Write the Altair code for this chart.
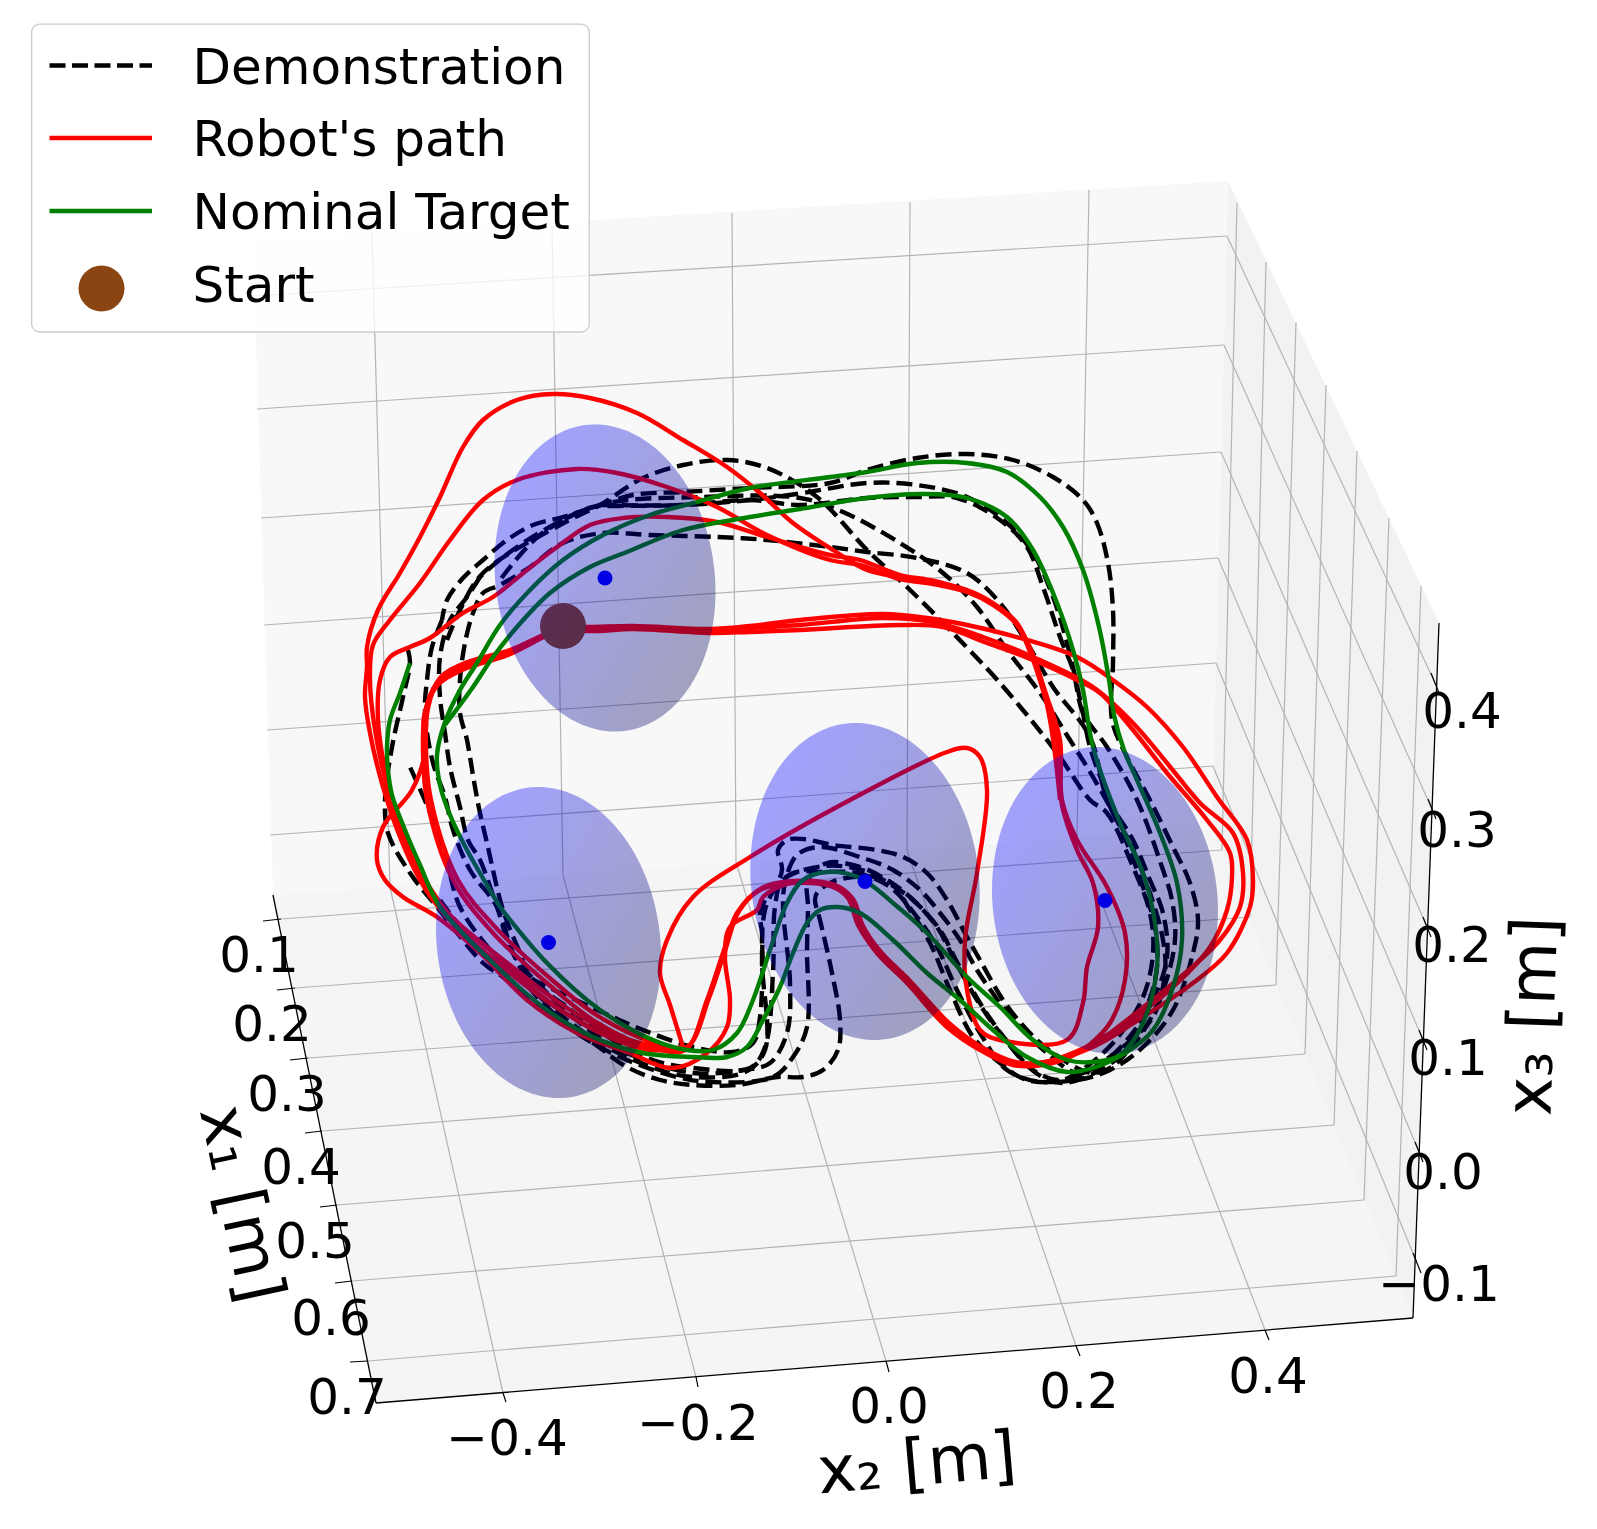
import numpy as np
import pandas as pd
import altair as alt

W, H = 1581, 1513
FONT = "DejaVu Sans"

# ---- box of the projected 3D axes (projected screen values)
back_wall = [(253,241),(1228,181),(1212,828),(273,895)]
right_wall = [(1228,181),(1439,623),(1413,1318),(1212,828)]
floor_pane = [(273,895),(1212,828),(1413,1318),(376,1403)]

x3_back_left = [(254,296),(257,409),(261,518),(264,625),(267,730),(270,835)]
x3_back_right = [(1227,236),(1224,345),(1221,452),(1218,558),(1216,663),(1213,766)]
x3_axis_pts = [(1435,683),(1432,809),(1427,927),(1423,1040),(1419,1152),(1417,1263)]
x3_labels = ["0.4","0.3","0.2","0.1","0.0","\u22120.1"]
x3_label_pos = [(1462,713),(1457,832),(1452,947),(1448,1060),(1443,1174),(1439,1286)]

x2_top = [(372,232),(552,225),(732,213),(910,202),(1089,190)]
x2_corner = [(390,887),(563,875),(736,862),(907,850),(1077,838)]
x2_axis_pts = [(503,1393),(696,1377),(886,1361),(1076,1346),(1265,1330)]
x2_tick_end = [(506,1402),(698,1387),(889,1372),(1080,1356),(1269,1340)]
x2_labels = ["\u22120.4","\u22120.2","0.0","0.2","0.4"]
x2_label_pos = [(507,1440),(698,1425),(889,1408),(1079,1393),(1268,1378)]

x1_axis_pts = [(281,919),(295,988),(308,1058),(322,1131),(337,1205),(352,1281),(368,1361)]
x1_tick_end = [(263,921),(277,990),(290,1060),(305,1133),(320,1207),(335,1283),(350,1362)]
x1_right = [(1222,850),(1250,917),(1276,985),(1305,1054),(1334,1125),(1364,1200),(1396,1276)]
x1_top = [(1237,203),(1266,262),(1296,322),(1326,385),(1357,451),(1389,518),(1421,586)]
x1_labels = ["0.1","0.2","0.3","0.4","0.5","0.6","0.7"]
x1_label_pos = [(259,957),(272,1026),(287,1096),(301,1169),(315,1243),(331,1320),(347,1399)]

axis_segments = [((273,895),(376,1403)),((376,1403),(1413,1318)),((1439,623),(1413,1318))]

# ---- spherical obstacles: centre, half width, half height, skew
obstacle_cx = [605, 548.5, 865, 1105]
obstacle_cy = [578, 942.5, 881.5, 900.5]
obstacle_ax = [110.5, 112.5, 114.7, 113]
obstacle_by = [153.5, 155.5, 158.5, 153.5]
obstacle_sk = [0.09, 0.09, 0.08, 0.07]

start_point = (563, 626)

# ---- demonstrations
demo_a = [(408,650),(410,663),(403,697),(392,747),(385,800),(388,833),(410,873),(437,907),(483,963),(503,977),(543,1010),(593,1043),(627,1067),(660,1080),(693,1085),(737,1085),(777,1077),(803,1077),(823,1070),(838,1050),(840,1020),(832,973),(820,920),(815,900),(817,893),(837,880),(887,880),(910,910),(930,943),(950,990),(973,1037),(1000,1063),(1027,1080),(1077,1080),(1110,1070),(1143,1047),(1173,1010),(1193,953),(1198,920),(1190,883),(1173,847),(1150,800),(1127,757),(1112,720),(1113,663),(1113,610),(1108,563),(1097,523),(1083,500),(1053,477),(1013,460),(967,454),(917,458),(867,470),(830,483),(750,488),(683,492),(633,495),(600,505),(563,517),(533,525),(507,540),(483,560),(463,578),(447,600),(442,620)]
demo_b = [(442,620),(432,647),(427,680),(425,713),(433,763),(445,797),(453,830),(470,870),(497,907),(513,953),(527,977),(567,1007),(613,1040),(653,1060),(693,1068),(750,1068),(765,1047),(773,973),(775,907),(783,880),(825,866),(862,870),(890,884),(913,900),(940,930),(956,960),(980,1003),(1003,1036),(1036,1073),(1062,1083),(1100,1070),(1137,1040),(1163,990),(1175,940),(1172,900),(1162,867),(1137,800),(1107,747),(1083,713),(1073,670),(1060,637),(1043,587),(1027,547),(1000,520),(957,498),(917,497),(867,498),(800,505),(750,500),(683,505),(617,506),(593,507),(557,523),(523,543),(497,562),(480,577)]
demo_c = [(480,577),(467,597),(450,620),(440,657),(440,697),(445,733),(450,767),(460,807),(468,840),(480,860),(497,907),(513,953),(547,993),(593,1033),(627,1053),(693,1073),(743,1070),(770,1063),(787,1033),(790,983),(783,907),(785,883),(797,855),(820,847),(860,857),(893,870),(920,890),(940,913),(960,940),(977,970),(1000,1003),(1023,1030),(1047,1053),(1077,1073),(1100,1065),(1127,1040),(1153,1000),(1167,957),(1163,913),(1150,880),(1133,840),(1113,807),(1090,747),(1083,713),(1067,643),(1053,597),(1033,553),(1007,523),(967,497),(917,485),(867,483),(803,493),(750,500),(683,505),(600,505)]
demo_d = [(1123,1047),(1153,1017),(1165,973),(1163,940),(1150,893),(1130,843),(1107,800),(1090,737),(1053,687),(1027,643),(1000,603),(967,573),(917,558),(867,552),(830,547),(767,540),(717,537),(650,535),(603,533),(563,543),(530,567),(500,585),(483,593),(473,613),(465,643),(460,680),(460,713),(467,740),(470,757),(475,787),(480,813),(487,843),(503,910),(520,953),(530,977),(540,983),(593,1008),(643,1030),(693,1047),(733,1052),(753,1043),(760,1017),(762,933),(760,913),(770,893),(793,873),(823,872),(857,873),(890,887),(917,917),(937,947),(957,990),(980,1033),(1007,1070),(1043,1082),(1080,1075),(1123,1047)]
demo_e = [(440,900),(480,950),(520,980),(567,1020),(607,1047),(660,1070),(693,1077),(745,1072),(765,1050),(762,960),(765,910),(782,870),(778,850),(787,840),(803,839),(833,845),(877,850),(903,857),(927,873),(947,900),(967,937),(980,960),(1003,1000),(1027,1030),(1053,1053),(1093,1073),(1120,1060),(1147,1007),(1157,967),(1155,927),(1143,887),(1120,827),(1093,777),(1070,740),(1040,693),(1007,650),(977,607),(943,573),(900,543),(843,512),(800,498),(700,497),(600,505),(540,535),(500,580)]
demo_f = [(447,640),(460,610),(483,573),(560,525),(600,505),(643,478),(683,465),(727,460),(767,468),(817,497),(867,550),(907,587),(950,630),(1000,683),(1057,753),(1090,800),(1107,813),(1133,867),(1150,913),(1153,953),(1143,997),(1113,1043),(1077,1073),(1060,1080),(1033,1070),(1000,1033),(977,1000),(953,957),(937,927),(910,897),(887,880),(860,867),(827,863),(808,880),(808,907),(807,950),(807,1027),(793,1057),(773,1077),(710,1082),(677,1077),(620,1057),(577,1033),(540,1000),(520,977),(493,953),(460,907),(448,867),(433,820),(410,767)]

# ---- robot paths
robot_a = [(563,626),(543,637),(510,653),(463,667),(437,683),(425,713),(423,750),(427,800),(453,880),(493,933),(547,983),(593,1020),(650,1047),(685,1050),(707,1000),(723,953),(737,913),(760,890),(793,883),(833,887),(850,900),(860,927),(877,953),(907,983),(947,1027),(980,1050),(1013,1065),(1043,1065),(1070,1057),(1093,1043),(1127,1023),(1173,987),(1210,947),(1227,910),(1232,877),(1230,853),(1207,820),(1167,773),(1133,730),(1100,693),(1077,680),(1033,660),(987,643),(943,627),(900,625),(800,630),(750,632),(710,633),(633,629),(587,631),(563,626)]
robot_b = [(563,626),(543,635),(510,650),(465,663),(440,678),(428,708),(426,750),(431,800),(458,880),(498,930),(552,980),(598,1016),(655,1043),(687,1047),(709,998),(725,951),(739,911),(762,888),(793,881),(835,885),(853,899),(863,926),(880,951),(910,981),(950,1024),(983,1048),(1015,1062),(1045,1062),(1075,1052),(1100,1040),(1127,1020),(1177,980),(1220,940),(1240,907),(1243,873),(1233,833),(1200,803),(1167,763),(1133,723),(1093,687),(1033,657),(983,637),(933,622),(883,618),(800,625),(750,628),(710,630),(633,627),(587,628),(563,626)]
robot_c = [(563,626),(541,638),(508,655),(462,670),(436,687),(424,717),(425,752),(412,790),(383,827),(377,860),(385,880),(403,897),(437,917),(480,953),(527,1000),(577,1033),(627,1052),(673,1068),(707,1053),(727,1027),(730,1000),(725,957),(730,927),(757,910),(763,897),(790,883),(830,885),(848,898),(858,925),(875,950),(905,980),(945,1025),(978,1048),(1011,1063),(1041,1063),(1093,1047),(1143,1017),(1193,983),(1227,953),(1250,907),(1253,880),(1247,840),(1217,797),(1183,747),(1147,707),(1117,683),(1077,657),(1020,638),(967,625),(927,618),(883,614),(800,620),(750,626),(710,629),(633,626),(587,627),(563,626)]
robot_d = [(1087,1047),(1110,1023),(1125,980),(1125,933),(1107,887),(1077,840),(1062,800),(1060,740),(1047,697),(1033,657),(1017,623),(993,603),(967,590),(933,582),(900,577),(867,570),(833,550),(793,523),(760,493),(727,467),(683,440),(637,413),(590,398),(553,394),(517,400),(483,420),(463,447),(440,497),(420,537),(400,573),(378,610),(367,647),(367,667),(365,697),(370,733),(383,787),(400,837),(420,880),(437,905),(493,953),(547,1000),(600,1033),(650,1050),(683,1047)]
robot_e = [(683,1047),(670,1005),(660,973),(667,940),(693,897),(750,857),(850,800),(947,752),(967,748),(980,757),(987,790),(977,873),(965,940),(967,990),(980,1030),(1000,1040),(1067,1040),(1083,1003),(1087,967),(1098,927),(1093,883),(1077,850),(1062,805),(1058,745),(1045,697),(1033,660),(1017,625),(993,605),(967,592),(933,584),(900,579),(860,565),(830,560),(767,535),(717,507),(667,487),(617,473),(577,469),(517,480),(483,500),(450,540),(420,583),(390,620),(373,645),(370,680),(375,730),(388,790),(405,840),(425,885),(445,915),(500,965),(560,1010),(620,1040),(680,1052)]
robot_f = [(1060,800),(1050,720),(1035,660),(1015,622),(990,602),(965,590),(930,580),(900,575),(860,560),(830,555),(767,537),(717,522),(667,517),(623,518),(590,525),(557,547),(527,570),(493,597),(463,613),(430,638),(410,647),(390,657),(380,680),(378,720),(385,770),(400,830),(425,880),(450,915),(510,965),(570,1010),(630,1040),(690,1050)]

# ---- nominal targets
target_a = [(410,663),(400,693),(390,720),(387,747),(388,770),(392,795),(405,830),(420,865),(440,907),(493,963),(547,1010),(593,1037),(643,1053),(693,1057),(727,1057),(747,1047),(763,1020),(780,987),(793,953),(807,923),(820,910),(837,907),(860,913),(893,940),(927,973),(960,1000),(993,1030),(1027,1057),(1067,1072),(1093,1068),(1127,1052),(1153,1030),(1173,987),(1182,940),(1177,883),(1160,833),(1137,780),(1124,750),(1114,715),(1109,680),(1099,627),(1083,570),(1063,527),(1040,497),(1007,472),(967,463),(917,463),(867,472),(830,477),(750,488),(697,502),(650,515),(603,535),(563,560),(530,590),(500,625),(477,663),(460,690),(445,722),(437,755),(440,785),(450,815),(467,850),(500,907)]
target_b = [(500,907),(547,963),(600,1010),(653,1040),(687,1050),(713,1050),(737,1033),(753,1000),(770,950),(787,903),(803,880),(827,872),(860,878),(893,903),(927,933),(967,977),(1000,1007),(1033,1040),(1067,1060),(1093,1062),(1120,1055),(1143,1023),(1157,967),(1155,923),(1143,873),(1120,823),(1093,747),(1083,690),(1073,650),(1057,603),(1033,550),(1007,517),(967,498),(923,494),(867,498),(800,509),(750,517),(683,530),(627,552),(590,567),(550,593),(517,627),(493,657),(473,687),(445,725)]

demos = [demo_a, demo_b, demo_c, demo_d, demo_e, demo_f]
robots = [robot_a, robot_b, robot_c, robot_d, robot_e, robot_f]
targets = [target_a, target_b]

# ---- legend
legend_box = ((31.6, 24.2), (589.3, 332))
legend_names = ["Demonstration", "Robot's path", "Nominal Target", "Start"]
legend_baselines = [83.5, 156, 229, 301.5]
legend_line_y = [65.5, 138, 211]
legend_dot = (101.5, 288.5)
legend_x = (49.5, 152, 192.5)

x_enc = alt.X("x:Q", scale=alt.Scale(domain=[8, 8 + W], range=[0, W]), axis=None)
y_enc = alt.Y("y:Q", scale=alt.Scale(domain=[8, 8 + H], range=[0, H]), axis=None)
x2_enc = alt.X2("x2:Q")
y2_enc = alt.Y2("y2:Q")
PROJ = dict(type="identity", scale=1, translate=[-8, -8])


def feature(pts, **props):
    ring = [list(map(float, p)) for p in pts]
    ring.append(ring[0])
    return {"type": "Feature", "properties": props,
            "geometry": {"type": "Polygon", "coordinates": [ring]}}


def segs(a, b):
    return pd.DataFrame({"x": [p[0] for p in a], "y": [p[1] for p in a],
                         "x2": [p[0] for p in b], "y2": [p[1] for p in b]})


def rules(df, color, width):
    return alt.Chart(df).mark_rule(color=color, strokeWidth=width).encode(
        x=x_enc, y=y_enc, x2=x2_enc, y2=y2_enc)


def paths(groups):
    rows = [{"id": k, "i": i, "x": p[0], "y": p[1]}
            for k, g in enumerate(groups) for i, p in enumerate(g)]
    return pd.DataFrame(rows)


def lines(groups, color, width, dash=None):
    kw = dict(color=color, strokeWidth=width, interpolate="catmull-rom", strokeCap="butt", strokeJoin="round")
    if dash:
        kw["strokeDash"] = dash
    return alt.Chart(paths(groups)).mark_line(**kw).encode(
        x=x_enc, y=y_enc, detail="id:N", order="i:Q")


def labels(names, pos, size=50):
    df = pd.DataFrame({"t": names, "x": [p[0] for p in pos], "y": [p[1] for p in pos]})
    return alt.Chart(df).mark_text(font=FONT, fontSize=size, color="black", align="center",
                                   baseline="middle").encode(x=x_enc, y=y_enc, text="t:N")


def title(text, pos, angle, size=65):
    df = pd.DataFrame({"t": [text], "x": [pos[0]], "y": [pos[1]]})
    return alt.Chart(df).mark_text(font=FONT, fontSize=size, color="black", align="center",
                                   baseline="middle", angle=angle).encode(x=x_enc, y=y_enc, text="t:N")


pane_feats = [feature(back_wall, fill="#f8f8f8"), feature(floor_pane, fill="#f5f5f5"),
              feature(right_wall, fill="#f2f2f2")]
panes = alt.Chart(alt.Data(values=pane_feats)).mark_geoshape(strokeWidth=0).encode(
    fill=alt.Color("properties.fill:N", scale=None)).project(**PROJ)

grid = [
    segs(x3_back_left, x3_back_right), segs(x3_back_right, x3_axis_pts),
    segs(x2_top, x2_corner), segs(x2_corner, x2_axis_pts),
    segs(x1_axis_pts, x1_right), segs(x1_right, x1_top),
]
grid_layers = [rules(g, "#b4b4b4", 1.2) for g in grid]

axis_df = segs([a for a, b in axis_segments], [b for a, b in axis_segments])
tick_dfs = [segs(x1_axis_pts, x1_tick_end), segs(x2_axis_pts, x2_tick_end),
            segs([(p[0] - 4, p[1] - 10) for p in x3_axis_pts], [(p[0] + 4, p[1] + 10) for p in x3_axis_pts])]

black = lines(demos, "black", 4.4, [16, 7])
red = lines(robots, "red", 4.4)
green = lines(targets, "green", 4.4)

start_df = pd.DataFrame({"x": [start_point[0]], "y": [start_point[1]]})
start = alt.Chart(start_df).mark_circle(color="#8b4513", opacity=1, size=2116).encode(x=x_enc, y=y_enc)
cent_df = pd.DataFrame({"x": obstacle_cx, "y": obstacle_cy})
centers = alt.Chart(cent_df).mark_circle(color="#0000ff", opacity=1, size=225).encode(x=x_enc, y=y_enc)

t = np.linspace(0, 2 * np.pi, 120, endpoint=False)
ell_feats = []
for cx, cy, ax, by, sk in zip(obstacle_cx, obstacle_cy, obstacle_ax, obstacle_by, obstacle_sk):
    d = np.arcsin(sk)
    pts = list(zip(cx + ax * np.cos(t), cy + by * np.sin(t + d)))
    ell_feats.append(feature(pts))
grad = alt.LinearGradient(gradient="linear", x1=0, y1=0.1, x2=1, y2=0.9,
                          stops=[alt.GradientStop(color="#0000ff", offset=0.15),
                                 alt.GradientStop(color="#000040", offset=1)])
ellipses = alt.Chart(alt.Data(values=ell_feats)).mark_geoshape(
    fill=grad, fillOpacity=0.35, strokeWidth=0).project(**PROJ)

box_df = pd.DataFrame({"x": [legend_box[0][0]], "y": [legend_box[0][1]],
                       "x2": [legend_box[1][0]], "y2": [legend_box[1][1]]})
box = alt.Chart(box_df).mark_rect(fill="white", fillOpacity=0.8, stroke="#cccccc", strokeWidth=1.3,
                                  cornerRadius=8).encode(x=x_enc, y=y_enc, x2=x2_enc, y2=y2_enc)
leg_lines = []
for yy, col, dash in zip(legend_line_y, ["black", "red", "green"], [[16, 6.5], None, None]):
    df = pd.DataFrame({"x": [legend_x[0]], "x2": [legend_x[1]], "y": [yy]})
    kw = dict(color=col, strokeWidth=4.4)
    if dash:
        kw["strokeDash"] = dash
    leg_lines.append(alt.Chart(df).mark_rule(**kw).encode(x=x_enc, x2=x2_enc, y=y_enc))
leg_dot = alt.Chart(pd.DataFrame({"x": [legend_dot[0]], "y": [legend_dot[1]]})).mark_circle(
    color="#8b4513", opacity=1, size=2116).encode(x=x_enc, y=y_enc)
leg_text = alt.Chart(pd.DataFrame({"t": legend_names, "x": [legend_x[2]] * 4, "y": legend_baselines})).mark_text(
    font=FONT, fontSize=50, color="black", align="left", baseline="alphabetic").encode(x=x_enc, y=y_enc, text="t:N")

chart = alt.layer(
    panes, *grid_layers,
    rules(axis_df, "black", 1.3), *[rules(d, "black", 1.2) for d in tick_dfs],
    labels(x1_labels, x1_label_pos), labels(x2_labels, x2_label_pos), labels(x3_labels, x3_label_pos),
    title("x\u2081 [m]", (240, 1204), 78), title("x\u2082 [m]", (917, 1465), 355), title("x\u2083 [m]", (1534, 1016), 272),
    black, red, green, start, centers, ellipses,
    box, *leg_lines, leg_dot, leg_text,
).properties(width=W, height=H, padding=0, autosize="none", background="white").configure_view(stroke=None)

chart.save("out.html", embed_options={"renderer": "svg", "actions": False})
